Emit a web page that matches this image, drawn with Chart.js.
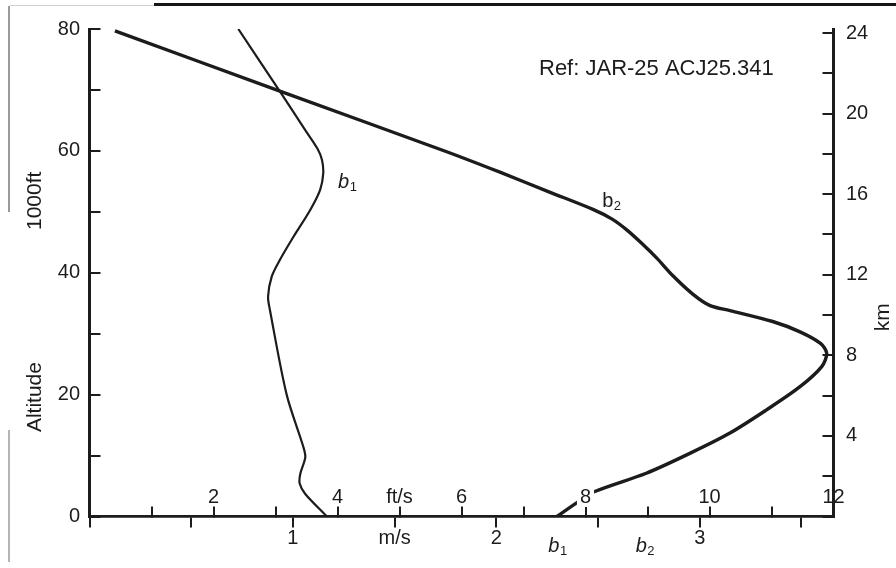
<!DOCTYPE html>
<html>
<head>
<meta charset="utf-8">
<title>Design gust velocity vs altitude</title>
<script src="https://cdn.jsdelivr.net/npm/chart.js@4/dist/chart.umd.min.js"></script>
<style>
  html, body { margin: 0; padding: 0; background: #fff; }
  #wrap { position: relative; width: 896px; height: 568px; overflow: hidden; background: #fff; }
  #wrap canvas { position: absolute; left: 0; top: 0; }
  .rule { position: absolute; }
</style>
</head>
<body>
<div id="wrap">
  <canvas id="gust" width="896" height="568"></canvas>
  <div class="rule" style="left:154px;top:3px;width:742px;height:3px;background:#151515"></div>
  <div class="rule" style="left:10px;top:5px;width:144px;height:1px;background:#d0d0d0"></div>
  <div class="rule" style="left:8px;top:6px;width:2px;height:206px;background:#9a9a9a"></div>
  <div class="rule" style="left:8px;top:430px;width:2px;height:132px;background:#b4b4b4"></div>
</div>
<script>
// Curve b1 (thin): vertical gust velocity (ft/s) against altitude (1000 ft)
const b1Speed = [2.40, 3.10, 3.48, 3.68, 3.75, 3.77, 3.72, 3.56, 3.29, 3.07, 2.94, 2.88, 2.91, 3.18, 3.45, 3.48, 3.40, 3.39, 3.48, 3.83];
const b1Alt   = [80.0, 69.3, 63.4, 60.3, 58.5, 56.3, 53.6, 50.3, 45.9, 42.1, 39.4, 36.1, 33.9, 20.0, 11.4, 9.7, 7.0, 5.4, 3.7, 0.0];

// Curve b2 (heavy): vertical gust velocity (ft/s) against altitude (1000 ft)
const b2Speed = [0.41, 3.07, 5.75, 6.62, 7.43, 8.12, 8.43, 8.67, 8.91, 9.15, 9.41, 9.73, 10.01, 10.33, 11.02, 11.46, 11.79, 11.89, 11.81, 11.46, 10.92, 10.33, 9.69, 8.98, 8.15, 7.88, 7.54];
const b2Alt   = [79.7, 69.8, 59.9, 56.5, 53.2, 50.4, 48.8, 47.0, 44.8, 42.4, 39.5, 36.5, 34.6, 33.8, 32.0, 30.3, 28.4, 26.8, 24.6, 21.3, 17.5, 13.7, 10.4, 7.1, 4.1, 2.4, 0.0];

// Axis labelling
const altLabelValues = [0, 20, 40, 60, 80];
const kmLabelValues  = [4, 8, 12, 16, 20, 24];
const ftsLabelValues = [2, 4, 5, 6, 8, 10, 12];
const ftsLabelText   = ['2', '4', 'ft/s', '6', '8', '10', '12'];
const msLabelValues  = [1, 1.5, 2, 3];
const msLabelText    = ['1', 'm/s', '2', '3'];
const refNote = 'Ref: JAR-25 ACJ25.341';

const FT_PER_M = 3.28084;
const INK = '#1c1c1c';
const FONT = "'Liberation Sans', Arial, Helvetica, sans-serif";

const toPoints = (xs, ys) => xs.map((v, i) => ({ x: v, y: ys[i] }));
const near = (a, b) => Math.abs(a - b) < 1e-6;
const labelFor = (v, values, texts) => {
  const i = values.findIndex(t => near(t, v));
  return i < 0 ? '' : (texts ? texts[i] : String(values[i]));
};

// Text that is not tied to a tick: axis titles, curve names, note
function drawSub(ctx, base, sub, x, y, italic) {
  ctx.font = `${italic ? 'italic ' : ''}20px ${FONT}`;
  ctx.textAlign = 'left';
  ctx.textBaseline = 'alphabetic';
  ctx.fillText(base, x, y);
  const w = ctx.measureText(base).width;
  ctx.font = `13px ${FONT}`;
  ctx.fillText(sub, x + w + 0.5, y + 3);
}

const annotations = {
  id: 'annotations',
  afterDraw(chart) {
    const { ctx } = chart;
    const x = chart.scales.x, y = chart.scales.y;
    const axisY = y.getPixelForValue(0);
    ctx.save();
    ctx.fillStyle = INK;

    ctx.font = `22px ${FONT}`;
    ctx.textAlign = 'left';
    ctx.textBaseline = 'middle';
    ctx.fillText(refNote, x.getPixelForValue(7.25), y.getPixelForValue(73.4));

    // curve names
    drawSub(ctx, 'b', '1', x.getPixelForValue(4.01), y.getPixelForValue(53.9), true);
    drawSub(ctx, 'b', '2', x.getPixelForValue(8.27), y.getPixelForValue(50.8), false);
    drawSub(ctx, 'b', '1', x.getPixelForValue(7.40), axisY + 35.5, true);
    drawSub(ctx, 'b', '2', x.getPixelForValue(8.81), axisY + 35.5, true);

    // rotated axis titles
    const vtext = (txt, px, py) => {
      ctx.save();
      ctx.translate(px, py);
      ctx.rotate(-Math.PI / 2);
      ctx.font = `21px ${FONT}`;
      ctx.textAlign = 'center';
      ctx.textBaseline = 'middle';
      ctx.fillText(txt, 0, 0);
      ctx.restore();
    };
    vtext('Altitude', 35, y.getPixelForValue(19.6));
    vtext('1000ft', 35, y.getPixelForValue(51.8));
    vtext('km', 883, y.getPixelForValue(32.7));
    ctx.restore();
  }
};

const tickFont = { family: FONT, size: 20, lineHeight: 1.2 };

// vertical axes: fixed width, and no extra end padding taken from tick labels
const fixWidth = (w) => (s) => { s.width = w; s.paddingTop = 0; s.paddingBottom = 0; };

new Chart(document.getElementById('gust'), {
  type: 'scatter',
  data: {
    datasets: [
      {
        label: 'b1',
        data: toPoints(b1Speed, b1Alt),
        showLine: true,
        borderColor: INK,
        borderWidth: 2.2,
        pointRadius: 0,
        tension: 0.3,
        xAxisID: 'x',
        yAxisID: 'y'
      },
      {
        label: 'b2',
        data: toPoints(b2Speed, b2Alt),
        showLine: true,
        borderColor: INK,
        borderWidth: 3.4,
        pointRadius: 0,
        tension: 0.3,
        xAxisID: 'x',
        yAxisID: 'y'
      }
    ]
  },
  options: {
    responsive: false,
    devicePixelRatio: 1,
    animation: false,
    events: [],
    layout: { padding: { top: 29, left: 0, right: 0, bottom: 0 } },
    plugins: { legend: { display: false }, tooltip: { enabled: false }, title: { display: false } },
    scales: {
      // gust velocity in ft/s: ticks point up, labels sit above the axis
      x: {
        type: 'linear',
        axis: 'x',
        position: { y: 0 },
        min: 0, max: 12,
        afterFit(s) { s.height = 0; },
        border: { color: INK, width: 2.5 },
        grid: { drawOnChartArea: false, color: INK, lineWidth: 2, tickLength: -11 },
        ticks: {
          z: 1,
          stepSize: 1,
          autoSkip: false,
          maxRotation: 0,
          includeBounds: false,
          padding: -18.5,
          color: INK,
          font: { family: FONT, size: 20, lineHeight: 1.0 },
          showLabelBackdrop: (c) => !!c.tick && near(c.tick.value, 8),
          backdropColor: '#ffffff',
          backdropPadding: { top: 2, bottom: 0, left: 3, right: 3 },
          callback: (v) => labelFor(v, ftsLabelValues, ftsLabelText)
        }
      },
      // same axis in m/s: ticks point down, labels below
      xm: {
        type: 'linear',
        axis: 'x',
        position: 'bottom',
        min: 0, max: 12 / FT_PER_M,
        afterFit(s) { s.height = 51.5; },
        border: { color: INK, width: 2.5 },
        grid: { drawOnChartArea: false, color: INK, lineWidth: 2, tickLength: 11 },
        ticks: {
          stepSize: 0.5,
          autoSkip: false,
          maxRotation: 0,
          includeBounds: false,
          padding: -1,
          color: INK,
          font: tickFont,
          callback: (v) => labelFor(v, msLabelValues, msLabelText)
        }
      },
      // altitude in 1000 ft
      y: {
        type: 'linear',
        axis: 'y',
        position: 'left',
        min: 0, max: 80,
        afterFit: fixWidth(89.5),
        border: { color: INK, width: 3 },
        grid: { drawOnChartArea: false, color: INK, lineWidth: 2, tickLength: -11 },
        ticks: {
          stepSize: 10,
          autoSkip: false,
          padding: 20.5,
          color: INK,
          font: tickFont,
          callback: (v) => labelFor(v, altLabelValues)
        }
      },
      // altitude in km
      yk: {
        type: 'linear',
        axis: 'y',
        position: 'right',
        min: 0, max: 24.2,
        afterFit: fixWidth(62.5),
        border: { color: INK, width: 3 },
        grid: { drawOnChartArea: false, color: INK, lineWidth: 2, tickLength: -11 },
        ticks: {
          stepSize: 2,
          autoSkip: false,
          includeBounds: false,
          padding: 23.5,
          color: INK,
          font: tickFont,
          callback: (v) => labelFor(v, kmLabelValues)
        }
      }
    }
  },
  plugins: [annotations]
});
</script>
</body>
</html>
